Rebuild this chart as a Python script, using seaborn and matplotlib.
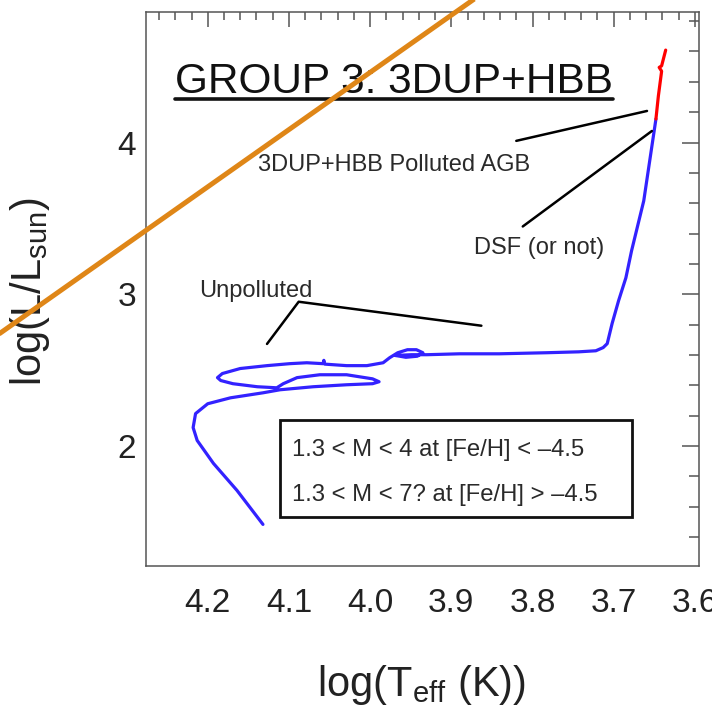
import matplotlib
matplotlib.use("Agg")
import matplotlib.pyplot as plt
import numpy as np
import pandas as pd
import seaborn as sns
from matplotlib.ticker import MultipleLocator, FormatStrFormatter
from matplotlib.patches import Rectangle
from matplotlib.lines import Line2D

# ---------------- data ----------------
blue_logT = [4.132, 4.164, 4.193, 4.213, 4.218, 4.215, 4.200, 4.172, 4.132, 4.111,
             4.070, 4.029, 3.997, 3.989, 3.997, 4.029, 4.062, 4.090, 4.107, 4.115,
             4.139, 4.169, 4.184, 4.188, 4.182, 4.160, 4.127, 4.099, 4.078, 4.058,
             4.057, 4.056, 4.029, 4.004, 3.984, 3.976, 3.966, 3.954, 3.943, 3.935,
             3.942, 3.956, 3.969, 3.949, 3.930, 3.890, 3.841, 3.783, 3.743, 3.722,
             3.713, 3.708, 3.702, 3.694, 3.685, 3.678, 3.663, 3.648]
blue_logL = [1.484, 1.708, 1.886, 2.037, 2.122, 2.214, 2.279, 2.318, 2.351, 2.371,
             2.391, 2.404, 2.411, 2.424, 2.443, 2.470, 2.470, 2.451, 2.411, 2.384,
             2.391, 2.411, 2.432, 2.451, 2.478, 2.511, 2.530, 2.543, 2.549, 2.543,
             2.565, 2.540, 2.530, 2.530, 2.549, 2.582, 2.615, 2.635, 2.635, 2.615,
             2.592, 2.585, 2.597, 2.602, 2.602, 2.608, 2.608, 2.615, 2.621, 2.628,
             2.649, 2.675, 2.807, 2.958, 3.109, 3.287, 3.616, 4.155]
red_logT = [3.648, 3.645, 3.641, 3.644, 3.641, 3.636]
red_logL = [4.155, 4.307, 4.470, 4.495, 4.505, 4.609]

orange_logT = [4.47, 3.86]
orange_logL = [2.69, 4.99]

agb_ptr_logT = [3.820, 3.659]
agb_ptr_logL = [4.011, 4.208]
dsf_ptr_logT = [3.812, 3.653]
dsf_ptr_logL = [3.447, 4.076]
unp_ptr_logT = [4.127, 4.088, 3.863]
unp_ptr_logL = [2.673, 2.951, 2.793]

title_text = "GROUP 3: 3DUP+HBB"
agb_label = "3DUP+HBB Polluted AGB"
dsf_label = "DSF (or not)"
unp_label = "Unpolluted"
box_lines = ["1.3 < M < 4 at [Fe/H] < \u20134.5",
             "1.3 < M < 7? at [Fe/H] > \u20134.5"]
xlabel = r"log(T$_{\rm eff}$ (K))"
ylabel = r"log(L/L$_{\rm sun}$)"

# ---------------- style ----------------
sns.set_theme(style="white")
plt.rcParams["font.family"] = ["Liberation Sans", "DejaVu Sans"]
plt.rcParams["mathtext.fontset"] = "custom"
plt.rcParams["mathtext.rm"] = "Liberation Sans"
plt.rcParams["mathtext.it"] = "Liberation Sans:italic"
plt.rcParams["mathtext.bf"] = "Liberation Sans:bold"

fig = plt.figure(figsize=(7.12, 7.14), dpi=100)
ax = fig.add_axes([0.2051, 0.2073, 0.7766, 0.7759])

blue_df = pd.DataFrame({"logT": blue_logT, "logL": blue_logL})
red_df = pd.DataFrame({"logT": red_logT, "logL": red_logL})
sns.lineplot(data=blue_df, x="logT", y="logL", sort=False, estimator=None,
             color="#3322ff", lw=2.3, ax=ax)
sns.lineplot(data=red_df, x="logT", y="logL", sort=False, estimator=None,
             color="#ff0000", lw=2.3, ax=ax)

ax.set_xlim(4.276, 3.595)
ax.set_ylim(1.21, 4.86)

# pointer lines
ax.plot(agb_ptr_logT, agb_ptr_logL, color="black", lw=1.8)
ax.plot(dsf_ptr_logT, dsf_ptr_logL, color="black", lw=1.8)
ax.plot(unp_ptr_logT, unp_ptr_logL, color="black", lw=1.8)

txtc = "#2a2a2a"
ax.text(4.1378, 3.813, agb_label, fontsize=17, color=txtc, va="baseline", ha="left")
ax.text(3.8715, 3.265, dsf_label, fontsize=17, color=txtc, va="baseline", ha="left")
ax.text(4.211, 2.980, unp_label, fontsize=17, color=txtc, va="baseline", ha="left")

# box
ax.add_patch(Rectangle((0.2423, 0.0884), 0.6365, 0.1751, transform=ax.transAxes,
                       fill=False, ec="#111111", lw=2.0, zorder=5))
ax.text(0.264, 0.2094, box_lines[0], transform=ax.transAxes, fontsize=17.2,
        color=txtc, va="center", ha="left")
ax.text(0.264, 0.1282, box_lines[1], transform=ax.transAxes, fontsize=17.2,
        color=txtc, va="center", ha="left")

# title with underline
title = ax.text(0.0515, 0.854, title_text, transform=ax.transAxes, fontsize=30.5,
                color="#111111", va="baseline", ha="left")

# orange diagonal
ax.plot(orange_logT, orange_logL, color="#df8617", lw=3.6, clip_on=False,
        zorder=20, solid_capstyle="butt")

# axes styling
ax.xaxis.set_major_locator(MultipleLocator(0.1))
ax.xaxis.set_minor_locator(MultipleLocator(0.02))
ax.yaxis.set_major_locator(MultipleLocator(1))
ax.yaxis.set_minor_locator(MultipleLocator(0.2))
ax.xaxis.set_major_formatter(FormatStrFormatter("%.1f"))
ax.yaxis.set_major_formatter(FormatStrFormatter("%d"))
ax.tick_params(axis="both", which="both", direction="in", top=True, right=True,
               color="#555555", width=1.1, labelcolor="#222222")
ax.tick_params(axis="x", which="major", length=11, labelsize=24, pad=16)
ax.tick_params(axis="x", which="minor", length=6)
ax.tick_params(axis="y", which="major", length=12, labelsize=24, pad=7)
ax.tick_params(axis="y", which="minor", length=7)
for s in ax.spines.values():
    s.set_color("#555555")
    s.set_linewidth(1.1)

ax.set_xlabel(xlabel, fontsize=30, color="#222222")
ax.set_ylabel(ylabel, fontsize=30, color="#222222")
ax.xaxis.label.set_va("center")
ax.yaxis.label.set_va("center")
ax.xaxis.set_label_coords(0.499, -0.215)
ax.yaxis.set_label_coords(-0.21, 0.496)

fig.canvas.draw()
bb = title.get_window_extent()
inv = ax.transAxes.inverted()
(x0, _), (x1, _) = inv.transform([(bb.x0, bb.y0), (bb.x1, bb.y0)])
ax.add_line(Line2D([x0, x1], [0.843, 0.843], transform=ax.transAxes,
                   color="#111111", lw=2.6))

fig.savefig("out.png", dpi=100, facecolor="white")
